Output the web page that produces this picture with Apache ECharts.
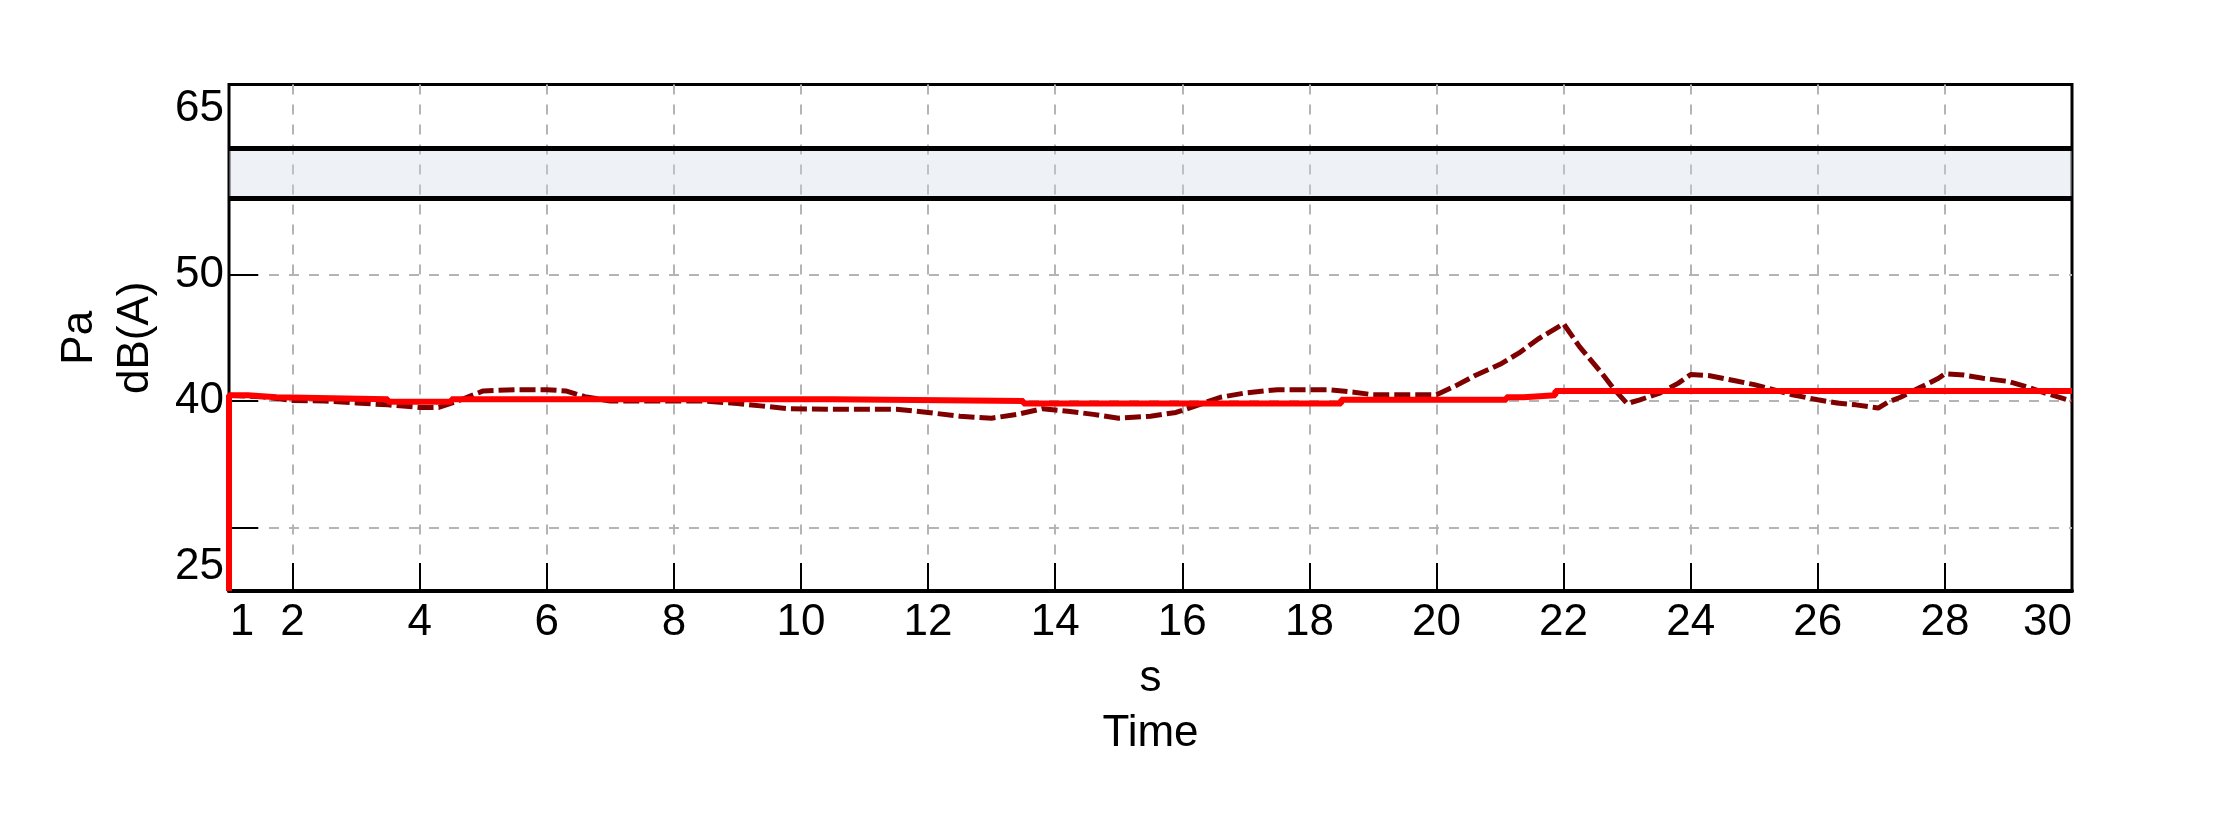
<!DOCTYPE html>
<html><head><meta charset="utf-8">
<script src="https://cdn.jsdelivr.net/npm/echarts@6/dist/echarts.min.js"></script>
<style>html,body{margin:0;padding:0;background:#fff}#c{width:2214px;height:813px}</style>
</head><body><div id="c"></div>
<script>
// Measured level (dark red, dashed)
const levelTime = [1,1.5,2,2.5,3,3.5,4,4.3,4.6,5,5.5,6,6.3,6.6,7,7.5,8,8.5,9,9.4,9.8,10.5,11,11.5,12,12.5,13,13.4,13.8,14.2,14.6,15,15.5,15.9,16.2,16.6,17,17.5,18,18.3,18.7,19,19.5,20,20.3,20.6,21,21.3,21.6,22,22.25,22.6,22.8,23,23.2,23.5,23.8,24,24.3,24.7,25,25.3,25.6,26,26.3,26.6,26.95,27.1,27.3,27.6,27.9,28,28.3,28.6,29,29.3,29.6,30];
const levelDb   = [40.45,40.35,40.05,40.0,39.85,39.7,39.5,39.5,40.0,40.8,40.9,40.9,40.8,40.35,40.0,40.0,40.0,40.0,39.8,39.6,39.4,39.35,39.35,39.35,39.1,38.8,38.65,38.95,39.4,39.2,38.95,38.65,38.8,39.1,39.6,40.3,40.65,40.9,40.9,40.9,40.7,40.5,40.5,40.5,41.2,42.0,42.9,43.8,44.9,46.1,44.3,42.2,40.9,39.8,40.1,40.6,41.4,42.1,42.0,41.6,41.3,40.9,40.5,40.1,39.85,39.7,39.45,39.9,40.3,41.05,41.8,42.15,42.05,41.8,41.55,41.1,40.6,40.0];
// Running average (red, stepped)
const avgTime = [1,1,1.3,1.75,3.5,4.5,10.5,13.5,18.5,21.1,21.37,21.87,30];
const avgDb   = [25,40.45,40.3,40.15,39.95,40.15,40.0,39.8,40.1,40.3,40.45,40.8,40.8];
// Limit band
const bandLow = 56;
const bandHigh = 60;
// Axis ticks / labels
const xLabelValues = [1,2,4,6,8,10,12,14,16,18,20,22,24,26,28,30];
const xTickValues = [2,4,6,8,10,12,14,16,18,20,22,24,26,28];
const yLabelValues = [25,40,50,65];
const yTickValues = [30,40,50];
const xMin = 1, xMax = 30, yMin = 25, yMax = 65;

const FONT = 'Liberation Sans';
const FS = 44;
const zip = (a, b) => a.map((v, i) => [v, b[i]]);
const base = {fontFamily: FONT, fontSize: FS, color: '#000'};

const chart = echarts.init(document.getElementById('c'), null, {renderer: 'canvas'});
chart.setOption({
  backgroundColor: '#fff',
  animation: false,
  grid: {left: 229, right: 142, top: 84.5, bottom: 222, show: true, borderColor: '#000', borderWidth: 3, backgroundColor: 'transparent'},
  xAxis: {
    type: 'value', min: xMin, max: xMax, interval: 1,
    name: 's\nTime', nameLocation: 'middle', nameGap: 60,
    nameTextStyle: Object.assign({}, base, {lineHeight: 55}),
    axisLine: {show: true, lineStyle: {color: '#000', width: 4}},
    axisTick: {show: true, inside: true, length: 28, customValues: xTickValues, lineStyle: {color: '#000', width: 2}},
    axisLabel: {
      customValues: xLabelValues, margin: 10, fontFamily: FONT, fontSize: FS, color: '#000',
      formatter: v => v === xMin ? '{f|' + v + '}' : (v === xMax ? '{l|' + v + '}' : String(v)),
      rich: {
        f: Object.assign({}, base, {padding: [0, 0, 0, 26]}),
        l: Object.assign({}, base, {padding: [0, 49, 0, 0]})
      }
    },
    splitLine: {show: true, lineStyle: {color: '#b4b4b4', width: 2, type: [10, 10]}}
  },
  yAxis: {
    type: 'value', min: yMin, max: yMax, splitNumber: 4,
    name: 'Pa\ndB(A)', nameLocation: 'middle', nameRotate: 90, nameGap: 58,
    nameTextStyle: Object.assign({}, base, {lineHeight: 56}),
    axisLine: {show: true, lineStyle: {color: '#000', width: 2}},
    axisTick: {show: true, inside: true, length: 29, customValues: yTickValues, lineStyle: {color: '#000', width: 2}},
    axisLabel: {
      customValues: yLabelValues, margin: 5, fontFamily: FONT, fontSize: FS, color: '#000',
      formatter: v => v === yMax ? '{t|' + v + '}' : (v === yMin ? '{b|' + v + '}' : String(v)),
      rich: {
        t: Object.assign({}, base, {padding: [49, 0, 0, 0]}),
        b: Object.assign({}, base, {padding: [0, 0, 49, 0]})
      }
    },
    splitLine: {show: true, lineStyle: {color: '#b4b4b4', width: 2, type: [10, 10]}}
  },
  series: [
    {
      type: 'line', name: 'level', data: zip(levelTime, levelDb), symbol: 'none', z: 3,
      lineStyle: {color: '#800000', width: 5, type: [16, 5]},
      markArea: {silent: true, itemStyle: {color: 'rgba(205,215,225,0.35)'}, data: [[{yAxis: bandLow}, {yAxis: bandHigh}]]},
      markLine: {silent: true, symbol: 'none', label: {show: false}, lineStyle: {color: '#000', width: 5, type: 'solid'},
        data: [{yAxis: bandLow}, {yAxis: bandHigh}]}
    },
    {
      type: 'line', name: 'average', data: zip(avgTime, avgDb), symbol: 'none', step: 'end', z: 4,
      lineStyle: {color: '#ff0000', width: 6}
    }
  ]
});
</script></body></html>
